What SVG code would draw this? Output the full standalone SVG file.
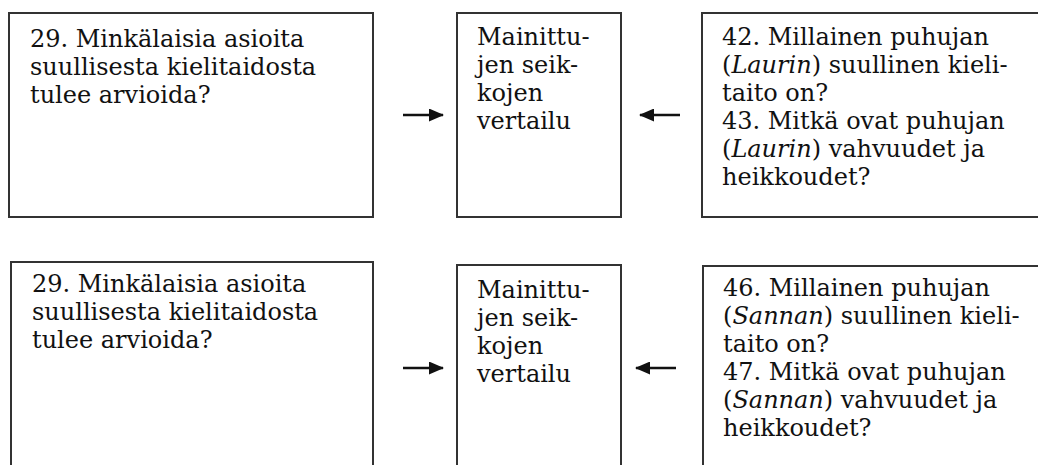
<svg xmlns="http://www.w3.org/2000/svg" width="1038" height="465" viewBox="0 0 1038 465">
<style>
.box{fill:#fff;stroke:#333;stroke-width:2}
.t{font-family:"DejaVu Serif","Liberation Serif",serif;font-size:24px;fill:#111}
.i{font-style:italic}
.con{stroke:#111;stroke-width:2.5;fill:none}
</style>
<defs>
<marker id="ah" viewBox="0 0 15 13" refX="14" refY="6.5" markerWidth="15" markerHeight="13" markerUnits="userSpaceOnUse" orient="auto">
<path d="M0,0 L15,6.5 L0,13 Z" fill="#111"/>
</marker>
</defs>
<g id="top-left">
<rect class="box" x="9" y="13" width="364" height="204"/>
<text class="t" x="30" y="47">29. Minkälaisia asioita</text>
<text class="t" x="30" y="75">suullisesta kielitaidosta</text>
<text class="t" x="30" y="103">tulee arvioida?</text>
</g>
<g id="top-middle">
<rect class="box" x="457" y="13" width="164" height="204"/>
<text class="t" x="477" y="45">Mainittu-</text>
<text class="t" x="477" y="73">jen seik-</text>
<text class="t" x="477" y="101">kojen</text>
<text class="t" x="477" y="129">vertailu</text>
</g>
<g id="top-right">
<rect class="box" x="702" y="13" width="350" height="204"/>
<text class="t" x="722" y="45">42. Millainen puhujan</text>
<text class="t" x="722" y="73">(<tspan class="i">Laurin</tspan>) suullinen kieli-</text>
<text class="t" x="722" y="101">taito on?</text>
<text class="t" x="722" y="129">43. Mitkä ovat puhujan</text>
<text class="t" x="722" y="157">(<tspan class="i">Laurin</tspan>) vahvuudet ja</text>
<text class="t" x="722" y="185">heikkoudet?</text>
</g>
<g id="bottom-left">
<rect class="box" x="11" y="262" width="362" height="220"/>
<text class="t" x="32" y="292">29. Minkälaisia asioita</text>
<text class="t" x="32" y="320">suullisesta kielitaidosta</text>
<text class="t" x="32" y="348">tulee arvioida?</text>
</g>
<g id="bottom-middle">
<rect class="box" x="457" y="265" width="164" height="220"/>
<text class="t" x="477" y="298">Mainittu-</text>
<text class="t" x="477" y="326">jen seik-</text>
<text class="t" x="477" y="354">kojen</text>
<text class="t" x="477" y="382">vertailu</text>
</g>
<g id="bottom-right">
<rect class="box" x="703" y="266" width="350" height="220"/>
<text class="t" x="723" y="296">46. Millainen puhujan</text>
<text class="t" x="723" y="324">(<tspan class="i">Sannan</tspan>) suullinen kieli-</text>
<text class="t" x="723" y="352">taito on?</text>
<text class="t" x="723" y="380">47. Mitkä ovat puhujan</text>
<text class="t" x="723" y="408">(<tspan class="i">Sannan</tspan>) vahvuudet ja</text>
<text class="t" x="723" y="436">heikkoudet?</text>
</g>
<g id="connectors">
<line class="con" x1="403" y1="115" x2="443" y2="115" marker-end="url(#ah)"/>
<line class="con" x1="680" y1="115" x2="640" y2="115" marker-end="url(#ah)"/>
<line class="con" x1="403" y1="368" x2="443" y2="368" marker-end="url(#ah)"/>
<line class="con" x1="676" y1="368" x2="636" y2="368" marker-end="url(#ah)"/>
</g>
</svg>
